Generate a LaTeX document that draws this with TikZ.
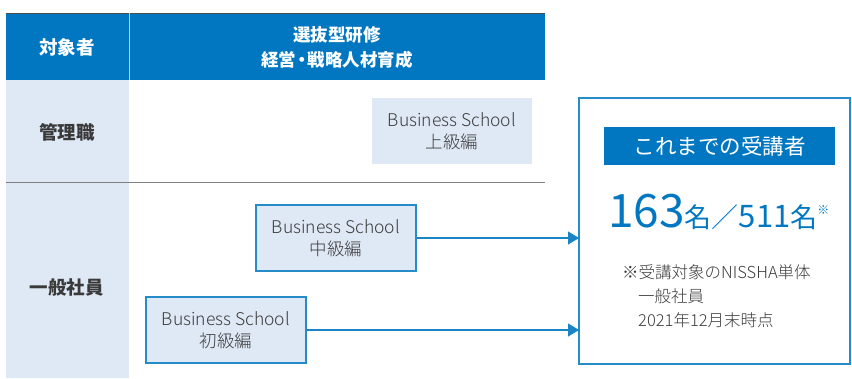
\documentclass[tikz,border=0pt]{standalone}
\usepackage{fontspec}
\setmainfont{Noto Sans CJK JP}
\newfontfamily\lightfont{Noto Sans CJK JP Light}
\usetikzlibrary{arrows.meta,positioning}

\definecolor{hdblue}{HTML}{0077C0}
\definecolor{pale}{HTML}{DFE9F5}
\definecolor{ink}{HTML}{3A3A3A}
\definecolor{rule}{HTML}{808080}

\tikzset{
  course/.style={fill=pale, text=ink, align=center, minimum width=160pt, minimum height=66pt,
                 font=\lightfont\fontsize{17.5}{22}\selectfont, inner sep=0pt},
  boxed/.style={course, draw=hdblue!85, line width=1.2pt},
  rowlbl/.style={text=ink, font=\fontsize{18.5}{20}\selectfont\bfseries},
  noteline/.style={anchor=base west, text=ink, inner sep=0pt, font=\lightfont\fontsize{16.5}{20}\selectfont},
  flow/.style={hdblue!90, line width=1.2pt, -{Triangle[length=11pt,width=13pt]}}
}

\begin{document}
\begin{tikzpicture}[x=1pt,y=-1pt]
    \useasboundingbox (0,0) rectangle (852,378);
    % Header
    \fill[hdblue] (6,13) rectangle (545,80);
    \draw[black!70, line width=0.8pt] (6,13) -- (545,13);
    \draw[white!70!hdblue, line width=0.8pt] (129,13) -- (129,80);
    \node[text=white, font=\fontsize{18.5}{20}\selectfont\bfseries] (who) at (67,47) {対象者};
    \node[text=white, align=center, font=\fontsize{17.5}{25}\selectfont\bfseries] (program) at (337,47)
        {選抜型研修\\経営\kern-3pt・\kern-3pt戦略人材育成};

    % Rows
    \fill[pale] (6,80) rectangle (129,378);
    \draw[rule, line width=1pt] (6,182) -- (545,182);
    \node[rowlbl] (manager) at (67,132) {管理職};
    \node[rowlbl] (staff) at (67,287) {一般社員};

    % Courses
    \node[course] (adv) at (452,131) {Business School\\上級編};
    \node[boxed] (mid) at (336,238) {Business School\\中級編};
    \node[boxed] (basic) at (226,330) {Business School\\初級編};

    % Result box
    \draw[hdblue!85, line width=1.2pt] (579,98) rectangle (850,364);
    \coordinate (result) at (579,98);
    \node[fill=hdblue, text=white, minimum width=231pt, minimum height=38pt, inner sep=0pt,
          font=\fontsize{21.5}{24}\selectfont] (title) at (719.5,146) {これまでの受講者};
    \node[anchor=base west, text=hdblue, inner sep=0pt] (count) at (608,227)
        {{\fontsize{46}{46}\selectfont 163}{\fontsize{27}{27}\selectfont 名}%
         {\lightfont\fontsize{27}{27}\selectfont ／}%
         {\fontsize{31}{31}\selectfont 511}{\fontsize{27}{27}\selectfont 名}%
         \raisebox{13pt}{\fontsize{12}{12}\selectfont ※}};
    \node[noteline] (note1) at (622,278) {※受講対象のNISSHA単体};
    \node[noteline] (note2) at (638,302) {一般社員};
    \node[noteline] (note3) at (638,326) {2021年12月末時点};

    % Flows
    \draw[flow] (mid.east) -- (mid.east -| result);
    \draw[flow] (basic.east) -- (basic.east -| result);
\end{tikzpicture}
\end{document}
